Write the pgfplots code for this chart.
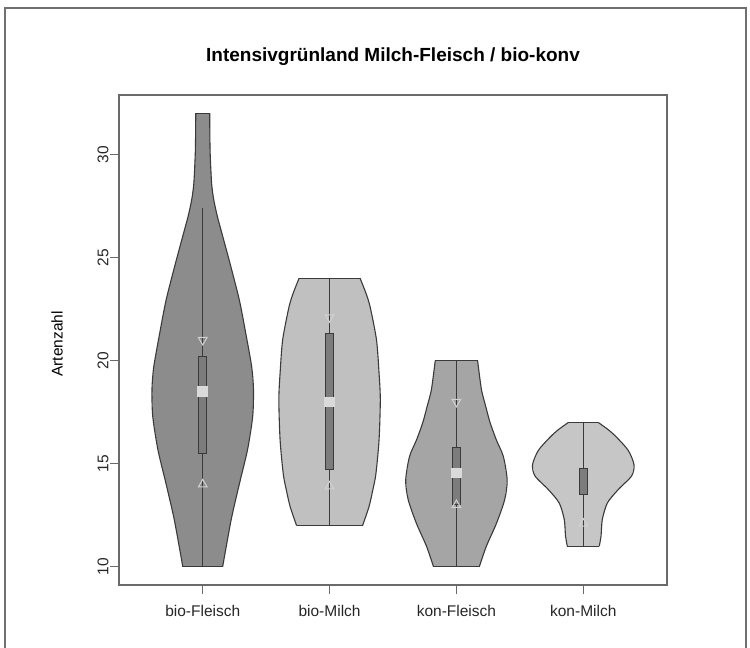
\documentclass[border=0pt]{standalone}
\usepackage{pgfplots}
\pgfplotsset{compat=1.18}
\usepackage{fontspec}
\setmainfont{Liberation Sans}
\definecolor{vA}{HTML}{8C8C8C}
\definecolor{vB}{HTML}{C0C0C0}
\definecolor{vC}{HTML}{A5A5A5}
\definecolor{vD}{HTML}{C6C6C6}
\definecolor{boxfill}{HTML}{7C7C7C}
\definecolor{edge}{HTML}{3A3A3A}
\definecolor{axgray}{HTML}{6A6A6A}
\definecolor{framegray}{HTML}{707070}
\definecolor{medcol}{HTML}{DADADA}
\definecolor{tricol}{HTML}{D2D2D2}
\begin{document}
\begin{tikzpicture}
\path[use as bounding box] (0,0) rectangle (750pt,648pt);
\draw[framegray, line width=2pt] (5pt,0) -- (5pt,640pt) -- (746pt,640pt) -- (746pt,0);
\begin{axis}[
  at={(119pt,63pt)}, anchor=south west,
  width=548pt, height=490pt, scale only axis,
  xmin=0.34, xmax=4.66, ymin=9.12, ymax=32.88,
  xtick={1,2,3,4},
  xticklabels={bio-Fleisch,bio-Milch,kon-Fleisch,kon-Milch},
  ytick={10,15,20,25,30},
  tick pos=left, tick align=outside, major tick length=9pt,
  axis line style={draw=axgray, line width=1.3pt},
  every tick/.style={draw=axgray, line width=1.1pt},
  /pgf/number format/assume math mode=true,
  tick label style={font=\fontsize{15.5pt}{18pt}\selectfont, text=black!85},
  yticklabel style={rotate=90, anchor=south},
  yticklabel shift=-2pt,
  xticklabel style={anchor=north},
  xticklabel shift=8pt,
  title={Intensivgrünland Milch-Fleisch / bio-konv},
  every axis title/.style={at={(axis description cs:0.5,1)}, anchor=center, yshift=38pt, font=\fontsize{19pt}{22pt}\selectfont\bfseries},
  ylabel={Artenzahl},
  every axis y label/.style={at={(axis description cs:0,0.5)}, xshift=-62pt, yshift=-4pt, rotate=90, anchor=center, font=\fontsize{15.5pt}{18pt}\selectfont},
  clip=false,
  vfill/.style={draw=none, fill=#1},
  vside/.style={smooth, tension=0.45, draw=edge, line width=1.1pt},
  vcap/.style={draw=edge, line width=1.1pt},
]
% ---- violin bio-Fleisch
\addplot[vfill=vA] coordinates {(0.843,10) (0.82,10.8) (0.772,12.4) (0.71,14.05) (0.646,15.7) (0.606,17.3) (0.60,18.6) (0.614,19.7) (0.66,21.3) (0.71,22.9) (0.78,24.6) (0.85,26.2) (0.885,27.0) (0.913,27.8) (0.93,28.6) (0.942,30.2) (0.945,32)
 (1.055,32) (1.058,30.2) (1.07,28.6) (1.087,27.8) (1.115,27.0) (1.15,26.2) (1.22,24.6) (1.29,22.9) (1.34,21.3) (1.386,19.7) (1.40,18.6) (1.394,17.3) (1.354,15.7) (1.29,14.05) (1.228,12.4) (1.18,10.8) (1.157,10)} -- cycle;
\addplot[vside] coordinates {(0.843,10) (0.82,10.8) (0.772,12.4) (0.71,14.05) (0.646,15.7) (0.606,17.3) (0.60,18.6) (0.614,19.7) (0.66,21.3) (0.71,22.9) (0.78,24.6) (0.85,26.2) (0.885,27.0) (0.913,27.8) (0.93,28.6) (0.942,30.2) (0.945,32)};
\addplot[vside] coordinates {(1.157,10) (1.18,10.8) (1.228,12.4) (1.29,14.05) (1.354,15.7) (1.394,17.3) (1.40,18.6) (1.386,19.7) (1.34,21.3) (1.29,22.9) (1.22,24.6) (1.15,26.2) (1.115,27.0) (1.087,27.8) (1.07,28.6) (1.058,30.2) (1.055,32)};
\addplot[vcap] coordinates {(0.945,32) (1.055,32)};
\addplot[vcap] coordinates {(0.843,10) (1.157,10)};
% ---- violin bio-Milch
\addplot[vfill=vB] coordinates {(1.74,12) (1.69,12.9) (1.66,13.7) (1.635,14.5) (1.61,16.15) (1.60,18.1) (1.61,19.4) (1.63,21.0) (1.68,22.6) (1.715,23.3) (1.76,24)
 (2.24,24) (2.285,23.3) (2.32,22.6) (2.37,21.0) (2.39,19.4) (2.40,18.1) (2.39,16.15) (2.365,14.5) (2.34,13.7) (2.31,12.9) (2.26,12)} -- cycle;
\addplot[vside] coordinates {(1.74,12) (1.69,12.9) (1.66,13.7) (1.635,14.5) (1.61,16.15) (1.60,18.1) (1.61,19.4) (1.63,21.0) (1.68,22.6) (1.715,23.3) (1.76,24)};
\addplot[vside] coordinates {(2.26,12) (2.31,12.9) (2.34,13.7) (2.365,14.5) (2.39,16.15) (2.40,18.1) (2.39,19.4) (2.37,21.0) (2.32,22.6) (2.285,23.3) (2.24,24)};
\addplot[vcap] coordinates {(1.76,24) (2.24,24)};
\addplot[vcap] coordinates {(1.74,12) (2.26,12)};
% ---- violin kon-Fleisch
\addplot[vfill=vC] coordinates {(2.82,10) (2.764,11.0) (2.685,12.1) (2.62,13.25) (2.60,14.2) (2.63,15.35) (2.685,16.15) (2.735,17.0) (2.77,17.8) (2.803,18.6) (2.833,20)
 (3.167,20) (3.197,18.6) (3.23,17.8) (3.265,17.0) (3.315,16.15) (3.37,15.35) (3.40,14.2) (3.38,13.25) (3.315,12.1) (3.236,11.0) (3.18,10)} -- cycle;
\addplot[vside] coordinates {(2.82,10) (2.764,11.0) (2.685,12.1) (2.62,13.25) (2.60,14.2) (2.63,15.35) (2.685,16.15) (2.735,17.0) (2.77,17.8) (2.803,18.6) (2.833,20)};
\addplot[vside] coordinates {(3.18,10) (3.236,11.0) (3.315,12.1) (3.38,13.25) (3.40,14.2) (3.37,15.35) (3.315,16.15) (3.265,17.0) (3.23,17.8) (3.197,18.6) (3.167,20)};
\addplot[vcap] coordinates {(2.833,20) (3.167,20)};
\addplot[vcap] coordinates {(2.82,10) (3.18,10)};
% ---- violin kon-Milch
\addplot[vfill=vD] coordinates {(3.874,11) (3.86,11.5) (3.85,12.3) (3.81,13.1) (3.724,13.75) (3.62,14.4) (3.60,14.95) (3.646,15.65) (3.74,16.3) (3.803,16.65) (3.882,17)
 (4.118,17) (4.197,16.65) (4.26,16.3) (4.354,15.65) (4.40,14.95) (4.38,14.4) (4.276,13.75) (4.19,13.1) (4.15,12.3) (4.14,11.5) (4.126,11)} -- cycle;
\addplot[vside] coordinates {(3.874,11) (3.86,11.5) (3.85,12.3) (3.81,13.1) (3.724,13.75) (3.62,14.4) (3.60,14.95) (3.646,15.65) (3.74,16.3) (3.803,16.65) (3.882,17)};
\addplot[vside] coordinates {(4.126,11) (4.14,11.5) (4.15,12.3) (4.19,13.1) (4.276,13.75) (4.38,14.4) (4.40,14.95) (4.354,15.65) (4.26,16.3) (4.197,16.65) (4.118,17)};
\addplot[vcap] coordinates {(3.882,17) (4.118,17)};
\addplot[vcap] coordinates {(3.874,11) (4.126,11)};
% whiskers
\addplot[draw=edge, line width=1.1pt] coordinates {(1,10) (1,27.4)};
\addplot[draw=edge, line width=1.1pt] coordinates {(2,12) (2,24)};
\addplot[draw=edge, line width=1.1pt] coordinates {(3,10) (3,20)};
\addplot[draw=edge, line width=1.1pt] coordinates {(4,11) (4,17)};
% boxes
\addplot[fill=boxfill, draw=edge, line width=1pt] coordinates {(0.968,15.5) (1.032,15.5) (1.032,20.2) (0.968,20.2)} -- cycle;
\addplot[fill=boxfill, draw=edge, line width=1pt] coordinates {(1.967,14.7) (2.033,14.7) (2.033,21.3) (1.967,21.3)} -- cycle;
\addplot[fill=boxfill, draw=edge, line width=1pt] coordinates {(2.967,13.0) (3.033,13.0) (3.033,15.8) (2.967,15.8)} -- cycle;
\addplot[fill=boxfill, draw=edge, line width=1pt] coordinates {(3.967,13.5) (4.033,13.5) (4.033,14.75) (3.967,14.75)} -- cycle;
% medians
\addplot[only marks, mark=square*, mark size=4.8pt, mark options={fill=medcol, draw=medcol, line width=0pt}] coordinates {(1,18.5) (2,18.0) (3,14.55)};
% triangles
\addplot[only marks, mark=triangle, mark size=5pt, mark options={draw=tricol, line width=1pt, rotate=180}] coordinates {(1,21.0) (2,22.1) (3,18.0)};
\addplot[only marks, mark=triangle, mark size=5pt, mark options={draw=tricol, line width=1pt}] coordinates {(1,14.0) (2,13.9) (3,13.0) (4,12.1)};
\end{axis}
\end{tikzpicture}
\end{document}
